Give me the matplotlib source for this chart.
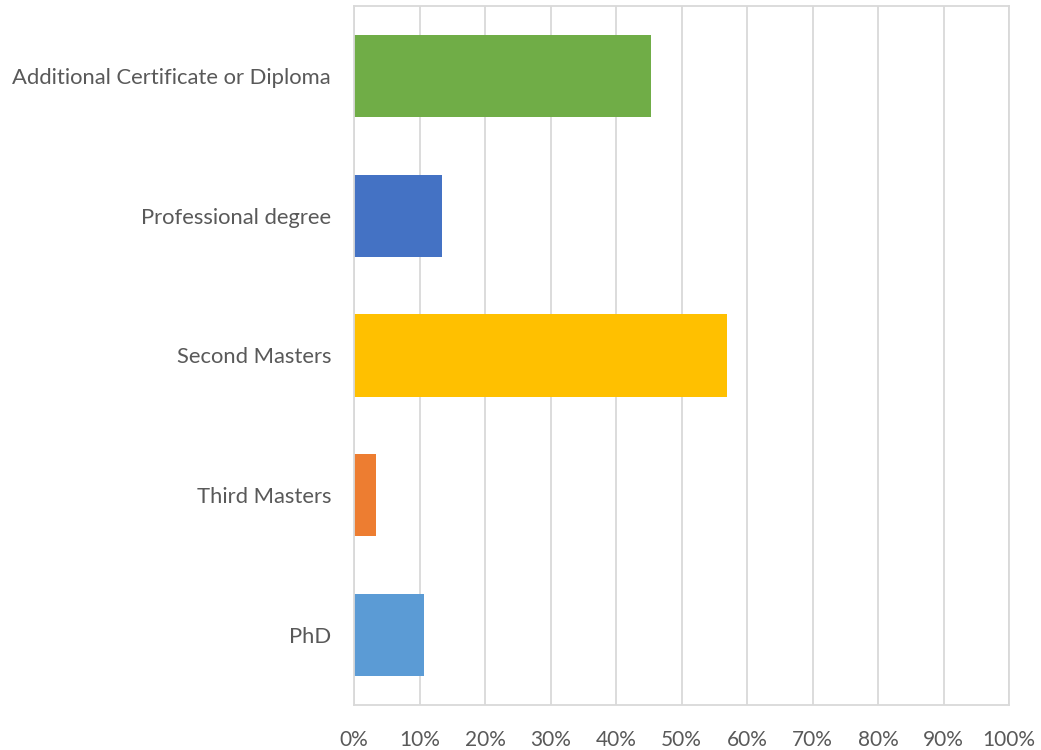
import matplotlib.pyplot as plt
from matplotlib.ticker import PercentFormatter

# Datos
categories = ["Additional Certificate or Diploma", "Professional degree",
              "Second Masters", "Third Masters", "PhD"]
values = [45.3, 13.4, 56.9, 3.4, 10.7]
colors = ["#70AD47", "#4472C4", "#FFC000", "#ED7D31", "#5B9BD5"]
xticks = list(range(0, 101, 10))

plt.rcParams['font.family'] = ['Lato', 'DejaVu Sans']

fig = plt.figure(figsize=(10.41, 7.5), dpi=100)
ax = fig.add_axes([354 / 1041, 1 - 705 / 750, 655 / 1041, 699 / 750])

pos = list(range(len(categories)))[::-1]
ax.barh(pos, values, height=0.588, color=colors, zorder=2)

ax.set_xlim(0, 100)
ax.set_ylim(-0.5, len(categories) - 0.5)
ax.set_xticks(xticks)
ax.xaxis.set_major_formatter(PercentFormatter(decimals=0))
ax.set_yticks(pos)
ax.set_yticklabels(categories)

ax.grid(axis='x', color='#D9D9D9', linewidth=1.3, zorder=0)
for s in ax.spines.values():
    s.set_color('#D9D9D9')
    s.set_linewidth(1.3)
ax.tick_params(length=0, colors='#595959')
ax.tick_params(axis='y', pad=16.5, labelsize=15.8)
ax.tick_params(axis='x', pad=18, labelsize=15)

fig.savefig('out.png', dpi=100)
